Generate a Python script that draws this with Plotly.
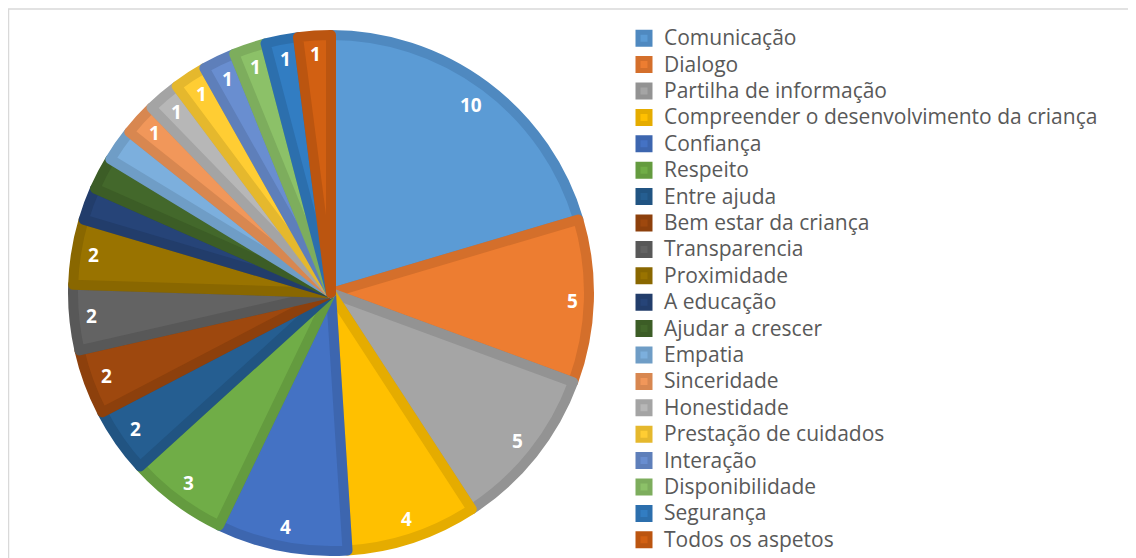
import math
import plotly.graph_objects as go

# categorias e valores
categorias = ['Comunicação', 'Dialogo', 'Partilha de informação',
              'Compreender o desenvolvimento da criança', 'Confiança', 'Respeito',
              'Entre ajuda', 'Bem estar da criança', 'Transparencia', 'Proximidade',
              'A educação', 'Ajudar a crescer', 'Empatia', 'Sinceridade',
              'Honestidade', 'Prestação de cuidados', 'Interação',
              'Disponibilidade', 'Segurança', 'Todos os aspetos']
valores = [10, 5, 5, 4, 4, 3, 2, 2, 2, 2, 1, 1, 1, 1, 1, 1, 1, 1, 1, 1]

# fatias sem rótulo no original
sem_rotulo = ['A educação', 'Ajudar a crescer', 'Empatia']

# cores (preenchimento e contorno)
cores = ['#5B9BD5', '#ED7D31', '#A5A5A5', '#FFC000', '#4472C4', '#70AD47',
         '#255E91', '#9E480E', '#636363', '#997300', '#264478', '#43682B',
         '#7CAFDD', '#F1975A', '#B7B7B7', '#FFCD33', '#698ED0', '#8CC168',
         '#327DC2', '#D26012']
cores_borda = ['#4F89C0', '#D46F2B', '#939393', '#E5AC00', '#3D66AF', '#649B3F',
               '#215482', '#8D400C', '#585858', '#896700', '#223D6B', '#3C5D26',
               '#6F9DC6', '#D88750', '#A4A4A4', '#E5B82D', '#5E7FBA', '#7DAD5D',
               '#2C6FAD', '#BB5510']

# a página tem margem de 8px, por isso a figura é 8px menor
W, H = 1128, 550
cx, cy, r = 323, 285, 258
borda_rotulo = 16  # distância do rótulo até a borda

fig = go.Figure()
fig.add_trace(go.Pie(
    labels=['<span style="font-size:21px">' + c + '</span>' for c in categorias],
    values=valores, textinfo='none',
    sort=False, direction='clockwise', rotation=0,
    marker=dict(colors=cores, line=dict(color=cores_borda, width=10)),
    domain=dict(x=[(cx - r) / W, (cx + r) / W], y=[1 - (cy + r) / H, 1 - (cy - r) / H]),
    hoverinfo='label+value'))

# rótulos de valor perto da borda de cada fatia (caixa do texto encostada na borda)
total = sum(valores)
acum = 0
anots = []
for c, v in zip(categorias, valores):
    ang = (acum + v / 2) / total * 2 * math.pi
    acum += v
    if c in sem_rotulo:
        continue
    meia_l = 5.5 * len(str(v))
    meia_a = 7.5
    ext = meia_l * abs(math.sin(ang)) + meia_a * abs(math.cos(ang))
    rr = r + 5 - borda_rotulo - ext
    px_ = cx + rr * math.sin(ang)
    py_ = cy - rr * math.cos(ang)
    anots.append(dict(x=px_ / W, y=1 - py_ / H, xref='paper', yref='paper',
                      xanchor='center', yanchor='middle',
                      text=str(v), showarrow=False,
                      font=dict(family='Open Sans', size=19, color='white', weight='bold')))

fig.update_layout(
    width=W, height=H,
    margin=dict(l=0, r=0, t=0, b=0),
    paper_bgcolor='white',
    showlegend=True,
    legend=dict(x=616 / W, y=1 - 22 / H, xanchor='left', yanchor='top',
                font=dict(family='Open Sans', size=18, color='#595959'),
                bgcolor='rgba(0,0,0,0)'),
    annotations=anots,
    shapes=[dict(type='rect', xref='paper', yref='paper',
                 x0=0.5 / W, x1=1.05, y0=-0.05, y1=1 - 1 / H,
                 line=dict(color='#D9D9D9', width=1.5))])

fig.write_html("out.html")
